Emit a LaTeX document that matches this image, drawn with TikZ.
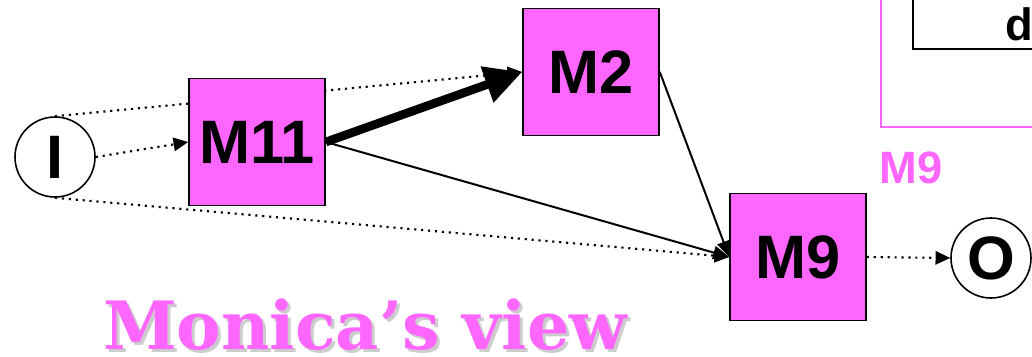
\documentclass[tikz,border=0pt]{standalone}
\usepackage{fontspec}
\setmainfont{Liberation Sans}
\newfontfamily\viewfont{DejaVu Serif}
\usetikzlibrary{arrows.meta,positioning,backgrounds}
\definecolor{modpink}{RGB}{255,102,255}

\begin{document}
\begin{tikzpicture}[
  x=0.75pt, y=-0.75pt,
  font=\fontsize{46}{50}\selectfont\bfseries,
  modbox/.style={rectangle, draw=black, line width=1.2pt, fill=modpink,
    minimum width=102pt, minimum height=95pt, inner sep=0pt},
  portnode/.style={circle, draw=black, line width=1.2pt, fill=white,
    minimum size=60pt, inner sep=0pt},
  dotarr/.style={-{Triangle[length=11pt,width=10pt]}, line width=1.6pt,
    dash pattern=on 1.6pt off 3.6pt},
  thinarr/.style={-{Triangle[length=12pt,width=10pt]}, line width=1.5pt},
  heavyarr/.style={-{Triangle[length=28pt,width=27pt]}, line width=6.5pt},
  viewtext/.style={anchor=base, inner sep=0pt, text depth=0pt,
    font=\fontsize{50}{56}\selectfont\bfseries\viewfont}
]
\useasboundingbox (0,0) rectangle (1032,357);
\clip (0,0) rectangle (1032,357);

% modules and ports
\node[portnode] (I) at (55,157) {I};
\node[modbox] (M11) at (257,142) {M11};
\node[modbox] (M2) at (591,72) {M2};
\node[modbox] (M9) at (798,257) {M9};
\node[portnode] (O) at (991,258) {O};

% inset at top right
\draw[modpink, line width=2.2pt] (881,-10) rectangle (1050,127);
\draw[black, line width=1pt] (913,-10) rectangle (1050,49);
\node[anchor=base west, inner sep=0pt, font=\fontsize{34}{38}\selectfont\bfseries] (dtext) at (1005,40) {d};
\node[anchor=base west, inner sep=0pt, text=modpink,
  font=\fontsize{34}{38}\selectfont\bfseries] (inlabel) at (879,183) {M9};

% connections
\begin{scope}[on background layer]
\draw[dotarr] (I.north) -- (M2.west);
\draw[dotarr] (I.south) -- (M9.west);
\end{scope}
\draw[dotarr] (I.east) -- (M11.west);
\draw[heavyarr] (M11.east) -- (M2.west);
\draw[thinarr] (M11.east) -- (M9.west);
\draw[thinarr] (M2.east) -- (M9.west);
\draw[dotarr] (M9.east) -- (O.west);

% title
\node[viewtext, text=black!20] (viewshadow) at (368,352) {Monica’s view};
\node[viewtext, text=modpink] (view) at (365,349) {Monica’s view};

\end{tikzpicture}
\end{document}
